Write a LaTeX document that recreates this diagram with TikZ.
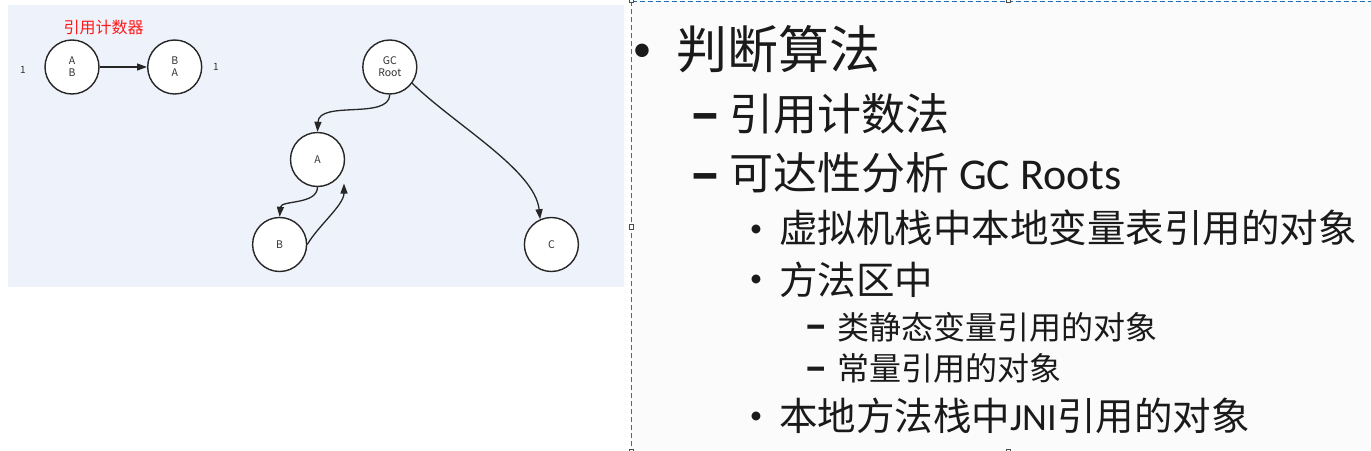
\documentclass[tikz,border=0pt]{standalone}
\usepackage{fontspec}
\setmainfont{Carlito}
\newfontfamily\cjk{Noto Sans CJK SC}
\newfontfamily\lat{Carlito}
\usetikzlibrary{arrows.meta}
\definecolor{leftbg}{HTML}{EEF3FB}
\definecolor{rightbg}{HTML}{FBFBFB}
\definecolor{framec}{HTML}{1F6FBF}
\definecolor{ink}{HTML}{1A1A1A}
\definecolor{redlab}{HTML}{FF1A1A}
\newcommand\szA{\fontsize{51}{51}\selectfont}
\newcommand\szB{\fontsize{44}{44}\selectfont}
\newcommand\szC{\fontsize{38.5}{38.5}\selectfont}
\newcommand\szD{\fontsize{32}{32}\selectfont}
\begin{document}
\begin{tikzpicture}[x=1pt,y=-1pt,
  circ/.style={circle,draw=black!85,line width=1.4pt,fill=white,minimum size=54pt,inner sep=0pt,align=center,font=\cjk\fontsize{10.5}{12}\selectfont,text=black!80},
  arr/.style={draw=black!85,line width=1.3pt,-{Triangle[length=10pt,width=7pt]}},
  smalltxt/.style={font=\cjk\fontsize{10}{12}\selectfont,text=black!80,inner sep=0pt},
  tline/.style={anchor=west,inner sep=0pt,text=ink},
  bmark/.style={inner sep=0pt,text=ink},
  dmark/.style={inner sep=0pt,text=ink,anchor=base,text height=0.5pt,text depth=0pt},
  dframe/.style={draw=framec,line width=1.1pt,dash pattern=on 5pt off 3pt},
  handle/.style={draw=black!70,fill=white,line width=0.9pt,minimum size=4.5pt,inner sep=0pt,rectangle}
]
\useasboundingbox (0,0) rectangle (1371,450);
\fill[white] (0,0) rectangle (1371,450);
\fill[leftbg] (8,5) rectangle (624,287);
\fill[rightbg] (631,1) rectangle (1371,450);
% frame
\coordinate (ftl) at (631.5,1.3);
\coordinate (fbl) at (631.5,450);
\coordinate (ftr) at (1371,1.3);
\draw[dframe] (ftl) -- (fbl);
\draw[dframe] (ftl) -- (ftr);
\node[handle] (h1) at (631.5,0.5) {};
\node[handle] (h2) at (631.5,227) {};
\node[handle] (h3) at (1008.5,0.5) {};
\node[handle] (h4) at (631.5,451.5) {};
\node[handle] (h5) at (1008.5,451.5) {};

% left: reference counting
\node[font=\cjk\fontsize{16}{16}\selectfont,text=redlab,inner sep=0pt] (rl) at (103.5,27) {引用计数器};
\node[circ] (ab) at (72,67) {A\\B};
\node[circ] (ba) at (174.7,67) {B\\A};
\node[smalltxt] (n1) at (23,70) {1};
\node[smalltxt] (n2) at (216,67) {1};
\draw[arr] (ab.east) -- (ba.west);

% left: reachability
\node[circ] (gc) at (389.8,67) {GC\\Root};
\node[circ] (a) at (317.5,159.5) {A};
\node[circ] (b) at (279.6,244.5) {B};
\node[circ] (c) at (551.4,244.5) {C};
\coordinate (ain) at (344,183.5);
\draw[arr] (gc.south) .. controls (389,120) and (319,100) .. (a.north);
\draw[arr] (gc.-36) .. controls (455,125) and (535,170) .. (c.114);
\draw[arr] (a.south) .. controls (317,205) and (281,200) .. (b.north);
\draw[arr] (b.east) .. controls (318,226) and (344,205) .. (ain);

% right: text
\node[bmark,font=\lat\fontsize{38}{38}\selectfont] (m1) at (642,53) {•};
\node[tline,font=\cjk\szA] (t1) at (676,49.5) {判断算法};
\node[dmark,font=\lat\bfseries\fontsize{64}{64}\selectfont] (m2) at (705,134) {–};
\node[tline,font=\cjk\szB] (t2) at (729,113.5) {引用计数法};
\node[dmark,font=\lat\bfseries\fontsize{64}{64}\selectfont] (m3) at (705,194) {–};
\node[tline,font=\cjk\szB] (t3) at (729,173) {可达性分析 {\lat GC Roots}};
\node[bmark,font=\lat\fontsize{25}{25}\selectfont] (m4) at (756,230.5) {•};
\node[tline,font=\cjk\szC] (t4) at (779,227.5) {虚拟机栈中本地变量表引用的对象};
\node[bmark,font=\lat\fontsize{25}{25}\selectfont] (m5) at (756,280.5) {•};
\node[tline,font=\cjk\szC] (t5) at (779,280) {方法区中};
\node[dmark,font=\lat\bfseries\fontsize{47}{47}\selectfont] (m6) at (816,340.5) {–};
\node[tline,font=\cjk\szD] (t6) at (837,327) {类静态变量引用的对象};
\node[dmark,font=\lat\bfseries\fontsize{47}{47}\selectfont] (m7) at (816,382.5) {–};
\node[tline,font=\cjk\szD] (t7) at (837,368) {常量引用的对象};
\node[bmark,font=\lat\fontsize{25}{25}\selectfont] (m8) at (756,417.5) {•};
\node[tline,font=\cjk\szC] (t8) at (779,416) {本地方法栈中{\lat JNI}引用的对象};
\end{tikzpicture}
\end{document}
